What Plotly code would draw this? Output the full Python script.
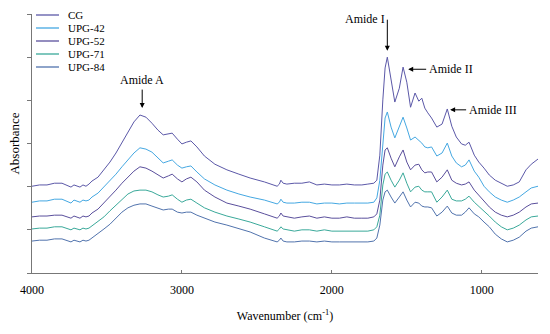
import plotly.graph_objects as go

# Wavenumber grid (cm-1)
W_LEFT = [4000, 3950, 3900, 3850, 3800, 3760, 3740, 3720, 3700, 3680, 3660, 3640, 3620, 3600,
          3560, 3520, 3480, 3440, 3400, 3360, 3320, 3280, 3240, 3200, 3160, 3125, 3090, 3065,
          3030, 3000, 2970, 2940, 2900, 2850, 2780, 2700, 2620, 2545, 2450, 2400, 2365, 2350,
          2340, 2325, 2300, 2250, 2200, 2150, 2100, 2050, 2000, 1950, 1900, 1850, 1800, 1760, 1720]
W_MID = [1700, 1680, 1660, 1645, 1630, 1605, 1580, 1550, 1525, 1500, 1475, 1445, 1420, 1400,
         1380, 1360, 1335, 1300, 1265, 1230, 1200, 1170, 1135, 1110, 1085, 1050, 1020, 985,
         950, 910, 870, 830, 790, 750, 705, 670, 625]
wavenumber = W_LEFT + W_MID

names = ["CG", "UPG-42", "UPG-52", "UPG-71", "UPG-84"]
colors = ["#5b58a8", "#45a8e2", "#5a4f9c", "#3aa99a", "#5173ad"]

cg = [0.201, 0.204, 0.204, 0.208, 0.208, 0.201, 0.199, 0.204, 0.201, 0.199, 0.204, 0.201, 0.206, 0.213,
      0.222, 0.239, 0.257, 0.278, 0.301, 0.327, 0.350, 0.366, 0.361, 0.347, 0.331, 0.320, 0.322, 0.324,
      0.310, 0.299, 0.303, 0.306, 0.292, 0.271, 0.252, 0.239, 0.229, 0.220, 0.211, 0.206, 0.201, 0.206,
      0.215, 0.208, 0.206, 0.208, 0.208, 0.211, 0.204, 0.206, 0.204, 0.204, 0.206, 0.204, 0.204, 0.206, 0.208,
      0.215, 0.273, 0.401, 0.475, 0.500, 0.452, 0.396, 0.428, 0.477, 0.442, 0.384, 0.417, 0.398, 0.405,
      0.382, 0.371, 0.359, 0.338, 0.345, 0.380, 0.340, 0.315, 0.299, 0.296, 0.303, 0.273, 0.257, 0.243,
      0.227, 0.215, 0.208, 0.201, 0.204, 0.211, 0.239, 0.252, 0.264]
upg42 = [0.164, 0.167, 0.167, 0.171, 0.171, 0.164, 0.162, 0.169, 0.167, 0.164, 0.169, 0.167, 0.169, 0.176,
         0.185, 0.199, 0.213, 0.229, 0.246, 0.262, 0.278, 0.290, 0.287, 0.280, 0.266, 0.255, 0.259, 0.262,
         0.250, 0.243, 0.246, 0.248, 0.234, 0.218, 0.204, 0.192, 0.183, 0.176, 0.169, 0.164, 0.160, 0.164,
         0.171, 0.164, 0.162, 0.162, 0.164, 0.164, 0.160, 0.162, 0.162, 0.160, 0.162, 0.162, 0.162, 0.162, 0.164,
         0.174, 0.215, 0.308, 0.359, 0.373, 0.338, 0.313, 0.340, 0.361, 0.336, 0.308, 0.315, 0.308, 0.301,
         0.292, 0.290, 0.292, 0.271, 0.278, 0.301, 0.271, 0.255, 0.246, 0.250, 0.262, 0.236, 0.222, 0.201,
         0.188, 0.176, 0.169, 0.164, 0.169, 0.176, 0.188, 0.197, 0.201]
upg52 = [0.130, 0.132, 0.132, 0.134, 0.134, 0.130, 0.127, 0.132, 0.130, 0.127, 0.132, 0.130, 0.132, 0.139,
         0.148, 0.162, 0.176, 0.192, 0.208, 0.222, 0.236, 0.246, 0.243, 0.236, 0.227, 0.220, 0.225, 0.229,
         0.218, 0.211, 0.218, 0.222, 0.211, 0.192, 0.176, 0.162, 0.155, 0.148, 0.137, 0.132, 0.127, 0.132,
         0.139, 0.132, 0.130, 0.127, 0.130, 0.132, 0.127, 0.130, 0.127, 0.127, 0.130, 0.127, 0.127, 0.127, 0.130,
         0.137, 0.169, 0.250, 0.285, 0.290, 0.266, 0.246, 0.269, 0.285, 0.257, 0.239, 0.250, 0.252, 0.239,
         0.232, 0.234, 0.234, 0.211, 0.222, 0.239, 0.215, 0.208, 0.204, 0.206, 0.211, 0.192, 0.181, 0.167,
         0.153, 0.141, 0.134, 0.130, 0.134, 0.141, 0.153, 0.160, 0.162]
upg71 = [0.102, 0.104, 0.104, 0.107, 0.107, 0.102, 0.100, 0.104, 0.102, 0.100, 0.104, 0.102, 0.104, 0.109,
         0.118, 0.130, 0.144, 0.157, 0.171, 0.183, 0.190, 0.192, 0.192, 0.188, 0.181, 0.176, 0.178, 0.181,
         0.171, 0.164, 0.169, 0.171, 0.162, 0.151, 0.141, 0.132, 0.125, 0.118, 0.107, 0.102, 0.097, 0.102,
         0.107, 0.102, 0.100, 0.097, 0.100, 0.100, 0.097, 0.100, 0.097, 0.097, 0.097, 0.097, 0.097, 0.097, 0.100,
         0.107, 0.134, 0.204, 0.229, 0.234, 0.215, 0.199, 0.215, 0.232, 0.208, 0.188, 0.199, 0.201, 0.192,
         0.188, 0.188, 0.188, 0.164, 0.176, 0.192, 0.171, 0.167, 0.167, 0.171, 0.178, 0.164, 0.155, 0.144,
         0.132, 0.118, 0.107, 0.100, 0.104, 0.111, 0.123, 0.130, 0.132]
upg84 = [0.074, 0.076, 0.076, 0.079, 0.079, 0.074, 0.072, 0.076, 0.074, 0.072, 0.076, 0.074, 0.076, 0.081,
         0.090, 0.102, 0.113, 0.127, 0.141, 0.151, 0.157, 0.160, 0.160, 0.155, 0.151, 0.146, 0.148, 0.148,
         0.141, 0.139, 0.141, 0.141, 0.134, 0.127, 0.118, 0.111, 0.102, 0.095, 0.081, 0.076, 0.072, 0.076,
         0.081, 0.074, 0.072, 0.072, 0.074, 0.074, 0.072, 0.074, 0.072, 0.072, 0.072, 0.072, 0.072, 0.072, 0.074,
         0.081, 0.111, 0.169, 0.188, 0.192, 0.176, 0.162, 0.176, 0.188, 0.169, 0.153, 0.164, 0.162, 0.155,
         0.153, 0.153, 0.151, 0.132, 0.141, 0.155, 0.139, 0.134, 0.134, 0.141, 0.151, 0.137, 0.130, 0.118,
         0.107, 0.090, 0.079, 0.072, 0.076, 0.083, 0.097, 0.104, 0.107]
series = [cg, upg42, upg52, upg71, upg84]

x_ticks = [4000, 3000, 2000, 1000]
y_ticks = [0, 0.1, 0.2, 0.3, 0.4, 0.5, 0.6]

FONT = "Liberation Serif"

fig = go.Figure()
for name, col, ys in zip(names, colors, series):
    fig.add_trace(go.Scatter(x=wavenumber, y=ys, mode="lines", name=name,
                             line=dict(color=col, width=1), showlegend=False))

W, H = 550, 334
ML, MR, MT, MB = 32, 12, 14, 61
PW, PH = W - ML - MR, H - MT - MB

# custom compact legend (top-left)
shapes = []
annotations = []
for i, (name, col) in enumerate(zip(names, colors)):
    py = 15 + 13 * i
    yp = (H - MB - py) / PH
    shapes.append(dict(type="line", xref="paper", yref="paper",
                       x0=(36 - ML) / PW, x1=(59 - ML) / PW, y0=yp, y1=yp,
                       line=dict(color=col, width=1.3)))
    annotations.append(dict(xref="paper", yref="paper", x=(66 - ML) / PW, y=yp,
                            xanchor="left", yanchor="middle", text=name, showarrow=False,
                            font=dict(family=FONT, size=11, color="black")))

afont = dict(family=FONT, size=12, color="black")
arrow = dict(showarrow=True, arrowhead=2, arrowsize=1, arrowwidth=1,
             arrowcolor="black", standoff=0, startstandoff=1, font=afont)
# Amide A: text above, vertical arrow down to the peak
annotations.append(dict(x=3265, y=0.382, ax=0, ay=-28, text="Amide A", **arrow))
# Amide I: text above with the arrow under its right end
annotations.append(dict(x=1630, y=0.515, ax=0, ay=-32, text="Amide I", xanchor="right",
                        yanchor="middle", **arrow))
# Amide II / III: horizontal arrows from the label on the right
annotations.append(dict(x=1491, y=0.472, ax=19, ay=0, text="Amide II", xanchor="left", **arrow))
annotations.append(dict(x=1211, y=0.378, ax=17, ay=0, text="Amide III", xanchor="left", **arrow))

fig.update_layout(
    width=W, height=H,
    margin=dict(l=ML, r=MR, t=MT, b=MB),
    paper_bgcolor="white", plot_bgcolor="white",
    font=dict(family=FONT, size=12, color="black"),
    shapes=shapes, annotations=annotations,
    xaxis=dict(range=[4000, 625], tickvals=x_ticks, ticktext=[str(v) for v in x_ticks],
               ticks="inside", ticklen=3, tickcolor="#777", showline=True, linecolor="#777",
               linewidth=1, showgrid=False, zeroline=False, ticklabelstandoff=6,
               tickfont=dict(family=FONT, size=12, color="black"),
               title=dict(text="Wavenumber (cm<sup>-1</sup>)", standoff=15,
                          font=dict(family=FONT, size=12, color="black"))),
    yaxis=dict(range=[0, 0.6], tickvals=y_ticks, showticklabels=False,
               ticks="outside", ticklen=4, tickcolor="#777", showline=True, linecolor="#777",
               linewidth=1, showgrid=False, zeroline=False,
               title=dict(text="Absorbance", standoff=4,
                          font=dict(family=FONT, size=13, color="black"))),
)

fig.write_html("out.html", config={"displayModeBar": False},
               post_script="document.body.style.margin='0';")
